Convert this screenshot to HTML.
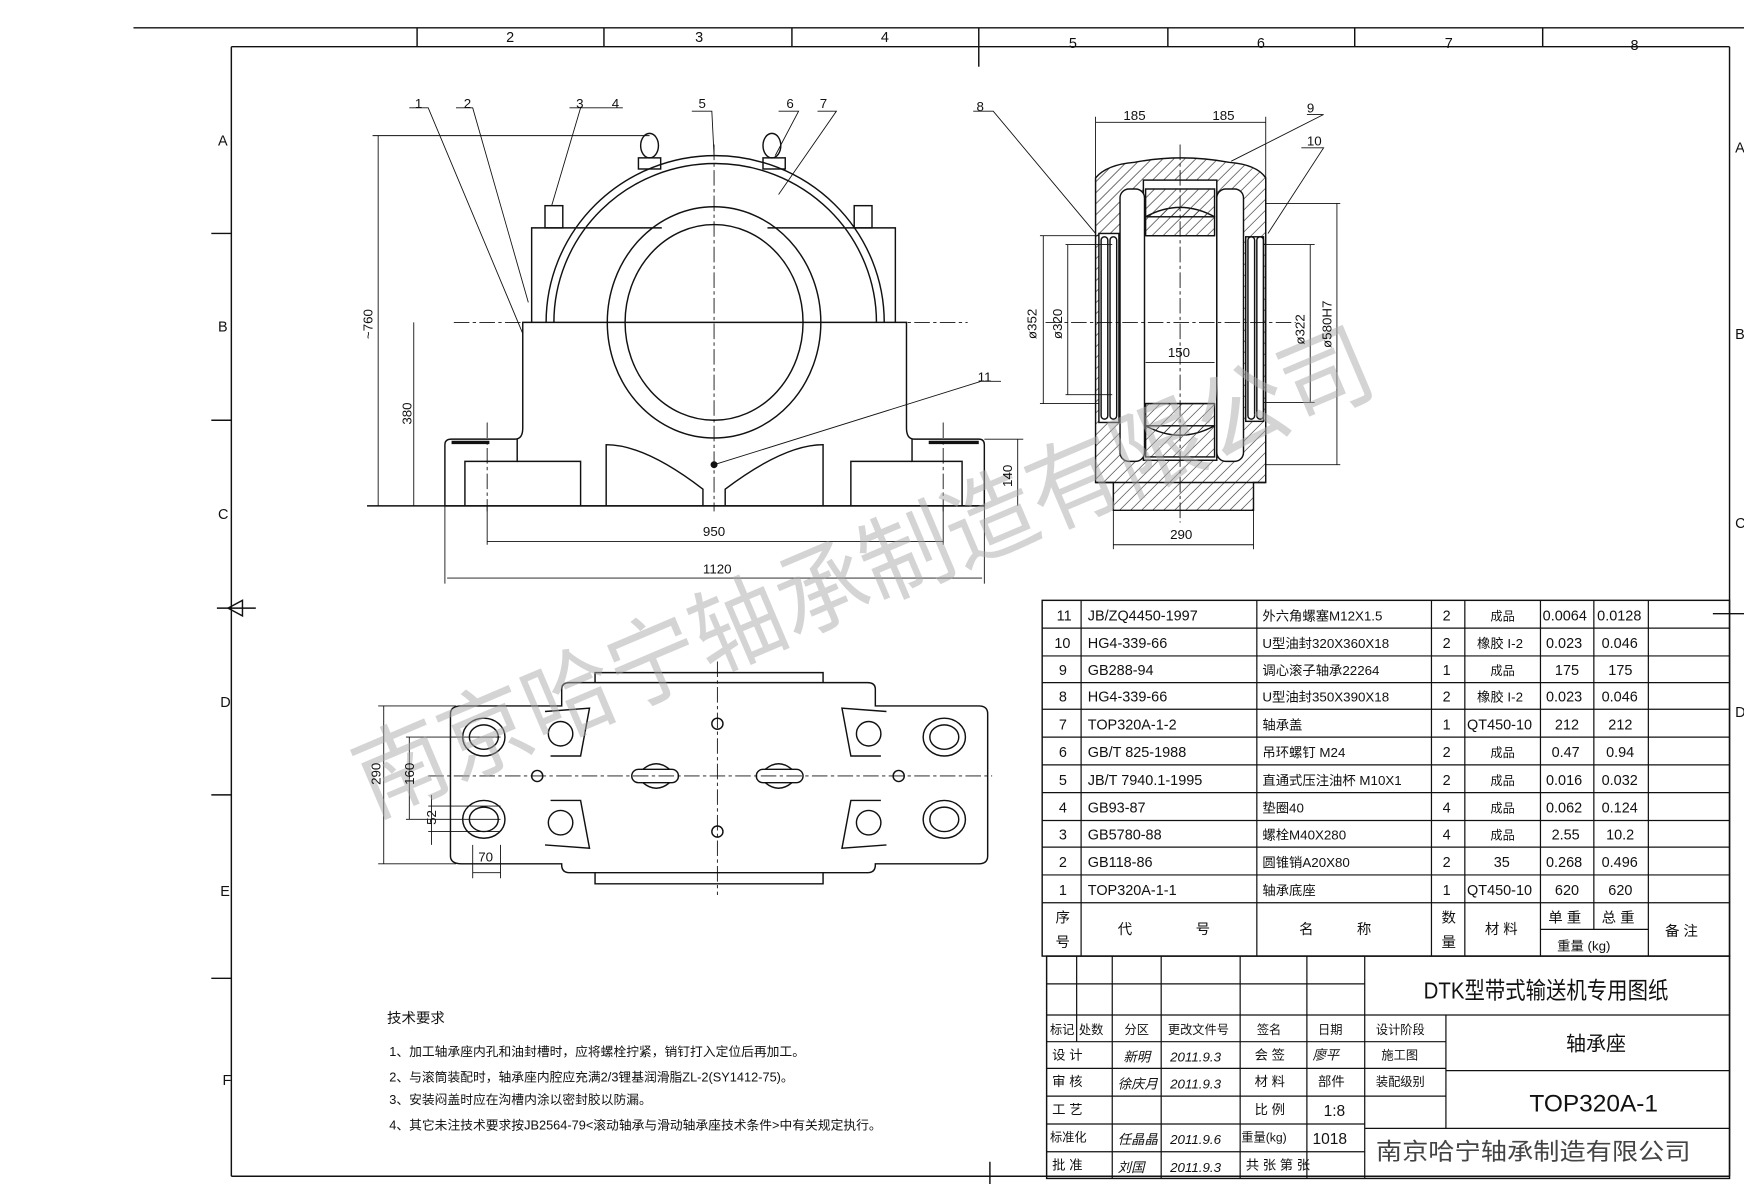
<!DOCTYPE html>
<html><head><meta charset="utf-8"><style>
html,body{margin:0;padding:0;background:#fff}
svg{display:block}
text{font-family:"Liberation Sans","Noto Sans CJK SC",sans-serif;fill:#111}
</style></head><body>
<svg width="1744" height="1184" viewBox="0 0 1568 1065" preserveAspectRatio="none" xmlns="http://www.w3.org/2000/svg">
<defs>
<pattern id="h" width="7" height="7" patternUnits="userSpaceOnUse" patternTransform="rotate(45)"><line x1="0" y1="0" x2="0" y2="7" stroke="#222" stroke-width="1.1"/></pattern>
</defs>
<rect width="1568" height="1065" fill="#fff"/>
<g stroke="#111" fill="none" stroke-width="1.3">
<line x1="120" y1="25" x2="1568" y2="25"/>
<line x1="208" y1="42" x2="1555" y2="42"/>
<line x1="208" y1="42" x2="208" y2="1058"/>
<line x1="208" y1="1058" x2="1555" y2="1058"/>
<line x1="1555" y1="42" x2="1555" y2="1058"/>
<line x1="375" y1="25" x2="375" y2="42"/><line x1="543" y1="25" x2="543" y2="42"/><line x1="712" y1="25" x2="712" y2="42"/><line x1="880" y1="25" x2="880" y2="60"/><line x1="1050" y1="25" x2="1050" y2="42"/><line x1="1218" y1="25" x2="1218" y2="42"/><line x1="1387" y1="25" x2="1387" y2="42"/>
<line x1="190" y1="210" x2="208" y2="210"/><line x1="190" y1="378" x2="208" y2="378"/><line x1="190" y1="715" x2="208" y2="715"/><line x1="190" y1="880" x2="208" y2="880"/>
<line x1="195" y1="547" x2="230" y2="547"/><path d="M205 547 L218 540 L218 554 Z"/>
<line x1="1540" y1="552" x2="1568" y2="552"/>
<line x1="890" y1="1045" x2="890" y2="1065"/>

<path d="M400 455 L400 400 Q400 395 406 395 L463 395 Q470 395 470 385 L470 290 L815 290 L815 385 Q815 395 822 395 L880 395 Q885 395 885 400 L885 455 Z"/>
<line x1="330" y1="455" x2="885" y2="455"/>
<path d="M418 455 L418 415 L465 415 L465 395"/><path d="M820 395 L820 415 L865 415 L865 455"/>
<path d="M465 415 L522 415 L522 455"/><path d="M820 415 L765 415 L765 455"/>
<path d="M545 455 L545 400 Q580 400 632 440 L632 455"/>
<path d="M740 455 L740 400 Q705 400 652 440 L652 455"/>
<path d="M478 290 L478 205 L595 205"/><path d="M805 290 L805 205 L690 205"/>
<path d="M491 290 A152 150 0 0 1 795 290"/>
<path d="M498 290 A145 143 0 0 1 788 290"/>
<rect x="490" y="185" width="16" height="20"/><rect x="768" y="185" width="16" height="20"/>
<ellipse cx="642" cy="290" rx="96" ry="104"/>
<ellipse cx="642" cy="290" rx="80" ry="88"/>
<ellipse cx="584" cy="131" rx="8" ry="11"/><ellipse cx="694" cy="131" rx="8" ry="11"/>
<rect x="574" y="142" width="20" height="10"/><rect x="686" y="142" width="20" height="10"/>
<line x1="406" y1="398" x2="440" y2="398" stroke-width="3"/><line x1="835" y1="398" x2="880" y2="398" stroke-width="3"/>
<g stroke-width="0.8" stroke-dasharray="14 3 3 3">
<line x1="642" y1="130" x2="642" y2="460"/><line x1="408" y1="290" x2="870" y2="290"/>
<line x1="438" y1="380" x2="438" y2="460"/><line x1="848" y1="380" x2="848" y2="460"/>
</g>
<g stroke-width="0.8">
<line x1="335" y1="122" x2="584" y2="122"/><line x1="340" y1="122" x2="340" y2="455"/>
<line x1="372" y1="290" x2="372" y2="455"/>
<line x1="885" y1="395" x2="920" y2="395"/><line x1="915" y1="395" x2="915" y2="455"/>
<line x1="438" y1="487" x2="848" y2="487"/><line x1="438" y1="455" x2="438" y2="490"/><line x1="848" y1="455" x2="848" y2="490"/>
<line x1="402" y1="520" x2="883" y2="520"/><line x1="400" y1="455" x2="400" y2="525"/><line x1="885" y1="455" x2="885" y2="525"/>
<path d="M368 97 L385 97 L470 300"/><path d="M410 97 L425 97 L475 272"/><path d="M512 97 L560 97 M522 97 L496 185"/>
<path d="M622 100 L640 100 L642 140"/><path d="M700 100 L718 100 L697 140"/><path d="M735 100 L752 100 L700 175"/>
<path d="M875 100 L893 100 L985 210"/><path d="M1175 103 L1190 103 L1107 145"/><path d="M1170 133 L1190 133 L1140 210"/>
<path d="M900 343 L882 343 L642 418"/>
</g>
<circle cx="642" cy="418" r="2.5" fill="#111"/>

<g>
<path d="M985 160 Q995 148 1020 146 Q1062 138 1105 146 Q1130 148 1138 160 L1138 434 L1127 434 L1127 459 L1001 459 L1001 434 L985 434 Z" fill="url(#h)"/>
<rect x="1028" y="162" width="66" height="252" fill="#fff"/>
<path d="M1030 195 Q1061 178 1092 195 L1092 212 L1030 212 Z" fill="url(#h)"/>
<path d="M1030 383 Q1061 400 1092 383 L1092 363 L1030 363 Z" fill="url(#h)"/>
<rect x="1030" y="170" width="62" height="25" fill="url(#h)"/>
<rect x="1030" y="383" width="62" height="28" fill="url(#h)"/>
<rect x="1007" y="170" width="22" height="245" rx="8" fill="#fff"/>
<rect x="1094" y="170" width="24" height="245" rx="8" fill="#fff"/>
<rect x="988" y="210" width="18" height="170" fill="#fff"/>
<rect x="1120" y="213" width="16" height="166" fill="#fff"/>
<rect x="990" y="213" width="6" height="164" rx="3"/><rect x="998" y="213" width="6" height="164" rx="3"/>
<rect x="1122" y="213" width="6" height="164" rx="3"/><rect x="1130" y="213" width="6" height="164" rx="3"/>
<line x1="985" y1="434" x2="1138" y2="434"/>
<line x1="1030" y1="212" x2="1092" y2="212"/><line x1="1030" y1="363" x2="1092" y2="363"/>
</g>
<g stroke-width="0.8">
<line x1="985" y1="110" x2="1138" y2="110"/><line x1="985" y1="105" x2="985" y2="160"/><line x1="1138" y1="105" x2="1138" y2="160"/>
<line x1="935" y1="212" x2="988" y2="212"/><line x1="935" y1="363" x2="988" y2="363"/><line x1="938" y1="212" x2="938" y2="363"/>
<line x1="958" y1="220" x2="1000" y2="220"/><line x1="958" y1="355" x2="1000" y2="355"/><line x1="960" y1="220" x2="960" y2="355"/>
<line x1="1136" y1="220" x2="1182" y2="220"/><line x1="1136" y1="362" x2="1182" y2="362"/><line x1="1178" y1="220" x2="1178" y2="362"/>
<line x1="1138" y1="183" x2="1205" y2="183"/><line x1="1138" y1="418" x2="1205" y2="418"/><line x1="1202" y1="183" x2="1202" y2="418"/>
<line x1="1030" y1="326" x2="1092" y2="326"/>
<line x1="1001" y1="490" x2="1127" y2="490"/><line x1="1001" y1="459" x2="1001" y2="494"/><line x1="1127" y1="459" x2="1127" y2="494"/>
<line x1="1061" y1="130" x2="1061" y2="470" stroke-dasharray="14 3 3 3"/>
<line x1="940" y1="290" x2="1165" y2="290" stroke-dasharray="14 3 3 3"/>
</g>

<path d="M415 635 L505 635 L505 620 Q505 614 512 614 L780 614 Q787 614 787 620 L787 635 L880 635 Q888 635 888 642 L888 770 Q888 777 880 777 L787 777 L787 778 Q787 785 780 785 L512 785 Q505 785 505 778 L505 777 L415 777 Q405 777 405 770 L405 642 Q405 635 415 635 Z"/>
<path d="M535 614 L535 605 L740 605 L740 614"/><path d="M535 785 L535 795 L740 795 L740 785"/>
<g>
<ellipse cx="435" cy="663" rx="19" ry="17"/><ellipse cx="435" cy="663" rx="13" ry="11"/>
<ellipse cx="435" cy="737" rx="19" ry="17"/><ellipse cx="435" cy="737" rx="13" ry="11"/>
<ellipse cx="849" cy="663" rx="19" ry="17"/><ellipse cx="849" cy="663" rx="13" ry="11"/>
<ellipse cx="849" cy="737" rx="19" ry="17"/><ellipse cx="849" cy="737" rx="13" ry="11"/>
<ellipse cx="504" cy="660" rx="11" ry="11"/><ellipse cx="504" cy="740" rx="11" ry="11"/>
<ellipse cx="781" cy="660" rx="11" ry="11"/><ellipse cx="781" cy="740" rx="11" ry="11"/>
<path d="M490 640 L530 637 L522 680 L495 680"/><path d="M490 760 L530 763 L522 720 L495 720"/>
<path d="M797 640 L757 637 L765 680 L792 680"/><path d="M797 760 L757 763 L765 720 L792 720"/>
<circle cx="645" cy="651" r="5"/><circle cx="645" cy="748" r="5"/>
<circle cx="483" cy="698" r="5"/><circle cx="808" cy="698" r="5"/>
<rect x="568" y="692" width="42" height="12" rx="6"/><path d="M578 692 Q590 682 602 692 M578 704 Q590 714 602 704"/>
<rect x="680" y="692" width="42" height="12" rx="6"/><path d="M688 692 Q700 682 712 692 M688 704 Q700 714 712 704"/>
</g>
<g stroke-width="0.8">
<line x1="645" y1="595" x2="645" y2="805" stroke-dasharray="14 3 3 3"/>
<line x1="385" y1="698" x2="892" y2="698" stroke-dasharray="14 3 3 3"/>
<line x1="340" y1="635" x2="410" y2="635"/><line x1="340" y1="777" x2="410" y2="777"/><line x1="345" y1="635" x2="345" y2="777"/>
<line x1="365" y1="663" x2="450" y2="663"/><line x1="365" y1="737" x2="450" y2="737"/><line x1="368" y1="663" x2="368" y2="737"/>
<line x1="385" y1="725" x2="450" y2="725"/><line x1="385" y1="748" x2="450" y2="748"/><line x1="388" y1="715" x2="388" y2="760"/>
<line x1="425" y1="760" x2="425" y2="790"/><line x1="450" y1="760" x2="450" y2="790"/><line x1="425" y1="785" x2="450" y2="785"/>
</g>

<rect x="937" y="540" width="618" height="320"/>
<g stroke-width="1.1">
<line x1="937" y1="565" x2="1555" y2="565"/><line x1="937" y1="590" x2="1555" y2="590"/><line x1="937" y1="614" x2="1555" y2="614"/><line x1="937" y1="638" x2="1555" y2="638"/><line x1="937" y1="663" x2="1555" y2="663"/><line x1="937" y1="688" x2="1555" y2="688"/><line x1="937" y1="713" x2="1555" y2="713"/><line x1="937" y1="738" x2="1555" y2="738"/><line x1="937" y1="762" x2="1555" y2="762"/><line x1="937" y1="787" x2="1555" y2="787"/><line x1="937" y1="812" x2="1555" y2="812"/>
<line x1="1385" y1="836" x2="1482" y2="836"/>
<line x1="972" y1="540" x2="972" y2="860"/><line x1="1130" y1="540" x2="1130" y2="860"/><line x1="1287" y1="540" x2="1287" y2="860"/><line x1="1317" y1="540" x2="1317" y2="860"/><line x1="1385" y1="540" x2="1385" y2="860"/><line x1="1433" y1="540" x2="1433" y2="836"/><line x1="1482" y1="540" x2="1482" y2="860"/>
</g>
<rect x="941" y="860" width="614" height="200"/>
<g stroke-width="1.1">
<line x1="941" y1="885" x2="1227" y2="885"/><line x1="941" y1="913" x2="1555" y2="913"/>
<line x1="941" y1="937" x2="1300" y2="937"/><line x1="941" y1="961" x2="1300" y2="961"/><line x1="941" y1="986" x2="1300" y2="986"/><line x1="941" y1="1011" x2="1227" y2="1011"/><line x1="941" y1="1036" x2="1227" y2="1036"/>
<line x1="1300" y1="963" x2="1555" y2="963"/><line x1="1227" y1="1015" x2="1555" y2="1015"/>
<line x1="968" y1="860" x2="968" y2="937"/><line x1="1000" y1="860" x2="1000" y2="1060"/><line x1="1044" y1="860" x2="1044" y2="1060"/><line x1="1115" y1="860" x2="1115" y2="1060"/><line x1="1175" y1="860" x2="1175" y2="1060"/><line x1="1227" y1="860" x2="1227" y2="1060"/><line x1="1300" y1="913" x2="1300" y2="1015"/>
</g>
</g>

<text x="0" y="0" transform="translate(335,735) rotate(-23)" font-size="86" style="fill:#aaa;fill-opacity:0.5" textLength="985" lengthAdjust="spacingAndGlyphs">南京哈宁轴承制造有限公司</text>

<g font-size="13">
<text x="455" y="38">2</text><text x="625" y="38">3</text><text x="792" y="38">4</text><text x="961" y="43">5</text><text x="1130" y="43">6</text><text x="1299" y="43">7</text><text x="1466" y="45">8</text>
<text x="196" y="131">A</text><text x="196" y="298">B</text><text x="196" y="467">C</text><text x="198" y="636">D</text><text x="198" y="806">E</text><text x="200" y="976">F</text>
<text x="1560" y="137">A</text><text x="1560" y="305">B</text><text x="1560" y="475">C</text><text x="1560" y="645">D</text>
</g>
<g font-size="12">
<text x="373" y="97">1</text><text x="417" y="97">2</text><text x="518" y="97">3</text><text x="550" y="97">4</text><text x="628" y="97">5</text><text x="707" y="97">6</text><text x="737" y="97">7</text><text x="878" y="100">8</text><text x="1175" y="101">9</text><text x="1175" y="131">10</text><text x="879" y="343">11</text>
<text x="632" y="482">950</text><text x="632" y="516">1120</text>
<text transform="translate(335,305) rotate(-90)">~760</text><text transform="translate(370,382) rotate(-90)">380</text><text transform="translate(910,438) rotate(-90)">140</text>
<text x="1010" y="108">185</text><text x="1090" y="108">185</text><text x="1050" y="321">150</text><text x="1052" y="485">290</text>
<text transform="translate(932,305) rotate(-90)">ø352</text><text transform="translate(955,305) rotate(-90)">ø320</text><text transform="translate(1173,310) rotate(-90)">ø322</text><text transform="translate(1197,313) rotate(-90)">ø580H7</text>
<text transform="translate(342,706) rotate(-90)">290</text><text transform="translate(372,706) rotate(-90)">160</text><text transform="translate(392,742) rotate(-90)">52</text><text x="430" y="775">70</text>
</g>
<g font-size="11.5">
<text x="348" y="920" font-size="13">技术要求</text>
<text x="350" y="950">1、加工轴承座内孔和油封槽时，应将螺栓拧紧，销钉打入定位后再加工。</text>
<text x="350" y="973">2、与滚筒装配时，轴承座内腔应充满2/3锂基润滑脂ZL-2(SY1412-75)。</text>
<text x="350" y="993">3、安装闷盖时应在沟槽内涂以密封胶以防漏。</text>
<text x="350" y="1016">4、其它未注技术要求按JB2564-79&lt;滚动轴承与滑动轴承座技术条件&gt;中有关规定执行。</text>
</g>
<g font-size="13">
<text x="950" y="558">11</text><text x="978" y="558">JB/ZQ4450-1997</text><text x="1135" y="558" font-size="12">外六角螺塞M12X1.5</text><text x="1297" y="558">2</text><text x="1340" y="558" font-size="11">成品</text><text x="1387" y="558">0.0064</text><text x="1436" y="558">0.0128</text>
<text x="948" y="583">10</text><text x="978" y="583">HG4-339-66</text><text x="1135" y="583" font-size="12">U型油封320X360X18</text><text x="1297" y="583">2</text><text x="1328" y="583" font-size="12">橡胶 I-2</text><text x="1390" y="583">0.023</text><text x="1440" y="583">0.046</text>
<text x="952" y="607">9</text><text x="978" y="607">GB288-94</text><text x="1135" y="607" font-size="12">调心滚子轴承22264</text><text x="1297" y="607">1</text><text x="1340" y="607" font-size="11">成品</text><text x="1398" y="607">175</text><text x="1446" y="607">175</text>
<text x="952" y="631">8</text><text x="978" y="631">HG4-339-66</text><text x="1135" y="631" font-size="12">U型油封350X390X18</text><text x="1297" y="631">2</text><text x="1328" y="631" font-size="12">橡胶 I-2</text><text x="1390" y="631">0.023</text><text x="1440" y="631">0.046</text>
<text x="952" y="656">7</text><text x="978" y="656">TOP320A-1-2</text><text x="1135" y="656" font-size="12">轴承盖</text><text x="1297" y="656">1</text><text x="1319" y="656">QT450-10</text><text x="1398" y="656">212</text><text x="1446" y="656">212</text>
<text x="952" y="681">6</text><text x="978" y="681">GB/T 825-1988</text><text x="1135" y="681" font-size="12">吊环螺钉 M24</text><text x="1297" y="681">2</text><text x="1340" y="681" font-size="11">成品</text><text x="1395" y="681">0.47</text><text x="1444" y="681">0.94</text>
<text x="952" y="706">5</text><text x="978" y="706">JB/T 7940.1-1995</text><text x="1135" y="706" font-size="12">直通式压注油杯 M10X1</text><text x="1297" y="706">2</text><text x="1340" y="706" font-size="11">成品</text><text x="1390" y="706">0.016</text><text x="1440" y="706">0.032</text>
<text x="952" y="731">4</text><text x="978" y="731">GB93-87</text><text x="1135" y="731" font-size="12">垫圈40</text><text x="1297" y="731">4</text><text x="1340" y="731" font-size="11">成品</text><text x="1390" y="731">0.062</text><text x="1440" y="731">0.124</text>
<text x="952" y="755">3</text><text x="978" y="755">GB5780-88</text><text x="1135" y="755" font-size="12">螺栓M40X280</text><text x="1297" y="755">4</text><text x="1340" y="755" font-size="11">成品</text><text x="1395" y="755">2.55</text><text x="1444" y="755">10.2</text>
<text x="952" y="780">2</text><text x="978" y="780">GB118-86</text><text x="1135" y="780" font-size="12">圆锥销A20X80</text><text x="1297" y="780">2</text><text x="1343" y="780">35</text><text x="1390" y="780">0.268</text><text x="1440" y="780">0.496</text>
<text x="952" y="805">1</text><text x="978" y="805">TOP320A-1-1</text><text x="1135" y="805" font-size="12">轴承底座</text><text x="1297" y="805">1</text><text x="1319" y="805">QT450-10</text><text x="1398" y="805">620</text><text x="1446" y="805">620</text>
<text x="949" y="830">序</text><text x="949" y="852">号</text><text x="1005" y="840">代</text><text x="1075" y="840">号</text><text x="1168" y="840">名</text><text x="1220" y="840">称</text><text x="1296" y="830">数</text><text x="1296" y="852">量</text><text x="1335" y="840">材 料</text><text x="1392" y="830">单 重</text><text x="1440" y="830">总 重</text><text x="1400" y="855" font-size="12">重量 (kg)</text><text x="1497" y="842">备 注</text>
</g>
<g font-size="12">
<text x="1280" y="898" font-size="21" textLength="220" lengthAdjust="spacingAndGlyphs">DTK型带式输送机专用图纸</text>
<text x="944" y="930" font-size="11">标记</text><text x="970" y="930" font-size="11">处数</text><text x="1011" y="930" font-size="11">分区</text><text x="1050" y="930" font-size="11">更改文件号</text><text x="1130" y="930" font-size="11">签名</text><text x="1185" y="930" font-size="11">日期</text><text x="1237" y="930" font-size="11">设计阶段</text>
<text x="946" y="953">设 计</text><text x="1010" y="955" font-style="italic">新明</text><text x="1052" y="955" font-style="italic">2011.9.3</text><text x="1128" y="953">会 签</text><text x="1180" y="953" font-style="italic">廖平</text><text x="1242" y="953" font-size="11">施工图</text>
<text x="946" y="977">审 核</text><text x="1005" y="979" font-style="italic">徐庆月</text><text x="1052" y="979" font-style="italic">2011.9.3</text><text x="1128" y="977">材 料</text><text x="1185" y="977">部件</text><text x="1237" y="977" font-size="11">装配级别</text>
<text x="946" y="1002">工 艺</text><text x="1128" y="1002">比 例</text><text x="1190" y="1004" font-size="14">1:8</text>
<text x="944" y="1027" font-size="11">标准化</text><text x="1005" y="1029" font-style="italic">任晶晶</text><text x="1052" y="1029" font-style="italic">2011.9.6</text><text x="1116" y="1027" font-size="11">重量(kg)</text><text x="1180" y="1029" font-size="14">1018</text>
<text x="946" y="1052">批 准</text><text x="1005" y="1054" font-style="italic">刘国</text><text x="1052" y="1054" font-style="italic">2011.9.3</text><text x="1120" y="1052">共 张 第 张</text>
<text x="1408" y="945" font-size="18">轴承座</text>
<text x="1375" y="1000" font-size="22">TOP320A-1</text>
<text x="1237" y="1043" font-size="21" style="fill:#444" textLength="283" lengthAdjust="spacingAndGlyphs">南京哈宁轴承制造有限公司</text>
</g>
</svg>
</body></html>
